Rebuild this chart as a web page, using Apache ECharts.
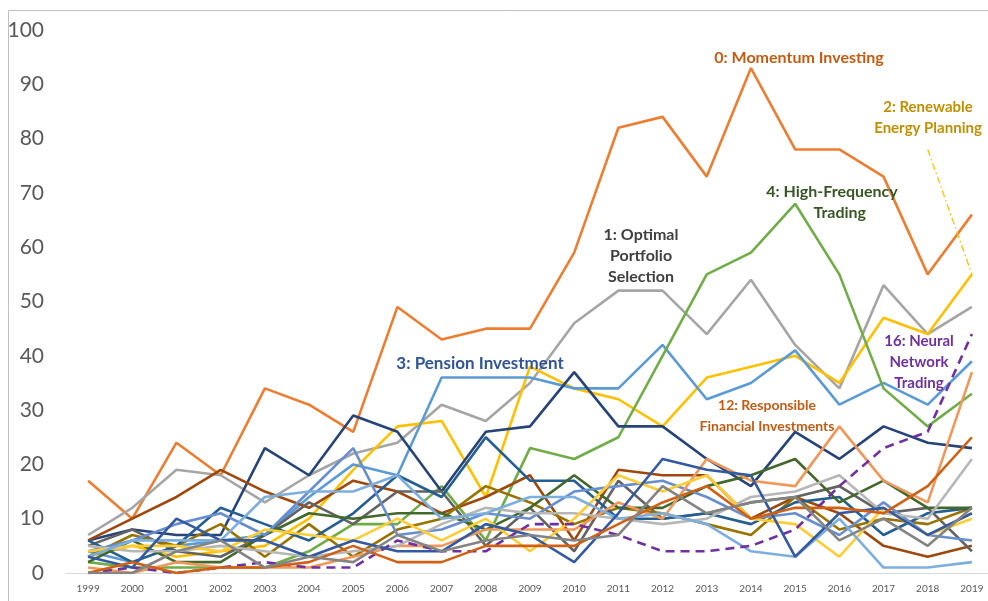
<!DOCTYPE html>
<html>
<head>
<meta charset="utf-8">
<script src="https://cdn.jsdelivr.net/npm/echarts@6/dist/echarts.min.js"></script>
<style>html,body{margin:0;padding:0;background:#fff;overflow:hidden;width:988px;height:601px}#c{width:1000px;height:601px}</style>
</head>
<body>
<div id="c"></div>
<script>
var years = ['1999','2000','2001','2002','2003','2004','2005','2006','2007','2008','2009','2010','2011','2012','2013','2014','2015','2016','2017','2018','2019'];
var yTicks = [0,10,20,30,40,50,60,70,80,90,100];

var s0  = [17,10,24,18,34,31,26,49,43,45,45,59,82,84,73,93,78,78,73,55,66];
var s1  = [7,12,19,18,13,18,22,24,31,28,35,46,52,52,44,54,42,34,53,44,49];
var s2  = [3,5,3,4,5,10,19,27,28,14,38,34,32,27,36,38,40,35,47,44,55];
var s3  = [4,2,5,6,7,14,20,18,36,36,36,34,34,42,32,35,41,31,35,31,39];
var s4  = [2,1,1,1,1,4,9,9,16,6,23,21,25,40,55,59,68,55,34,27,33];
var s5  = [6,8,7,7,23,18,29,26,15,26,27,37,27,27,21,16,26,21,27,24,23];
var s6  = [6,10,14,19,15,12,17,15,11,14,18,6,19,18,18,10,14,11,5,3,5];
var s7  = [5,8,4,3,7,13,9,15,15,5,12,4,17,10,11,13,14,16,11,12,4];
var s8  = [3,7,5,9,3,9,3,8,10,16,13,9,12,11,9,7,14,8,10,9,12];
var s9  = [6,2,5,12,9,6,11,18,14,25,17,17,10,10,11,9,13,14,7,11,12];
var s10 = [2,6,2,2,7,11,10,11,11,8,12,18,12,12,16,18,21,13,17,12,12];
var s11 = [4,6,9,11,7,15,23,7,8,11,10,15,16,17,14,10,11,7,13,7,6];
var s12 = [1,0,2,1,1,1,3,5,5,8,8,8,13,10,21,17,16,27,17,13,37];
var s13 = [5,4,4,5,4,3,4,5,9,12,11,11,10,9,10,14,15,18,11,10,21];
var s14 = [4,5,5,4,8,7,6,10,6,10,4,10,18,15,18,10,9,3,12,7,10];
var s15 = [3,6,6,6,14,15,15,18,10,11,14,14,10,11,9,4,3,10,1,1,2];
var s16 = [0,1,0,1,2,1,1,6,4,4,9,9,7,4,4,5,8,16,23,26,44];
var s17 = [3,1,10,6,6,3,6,4,4,9,7,2,11,21,19,18,3,11,12,7,11];
var s18 = [0,2,0,1,1,2,5,2,2,5,5,5,9,13,16,10,12,12,11,16,25];
var s19 = [0,0,4,6,1,3,2,7,4,6,7,6,7,16,11,13,14,6,10,5,12];

var seriesData = [s0,s1,s2,s3,s4,s5,s6,s7,s8,s9,s10,s11,s12,s13,s14,s15,s16,s17,s18,s19];
var colors = ['#ED7D31','#A5A5A5','#FFC000','#5B9BD5','#70AD47','#264478','#9E480E','#636363','#997300','#255E91',
              '#43682B','#698ED0','#F1975A','#B7B7B7','#FFCD33','#7CAFDD','#7030A0','#335AA1','#D26012','#848484'];

var series = seriesData.map(function(d, i){
  var s = {
    type: 'line', name: 'T' + i, data: d, showSymbol: false, symbol: 'none',
    silent: true, animation: false,
    lineStyle: { color: colors[i], width: 2.6, type: i === 16 ? [9, 6] : 'solid' },
    z: 2 + i
  };
  if (i === 2) {
    s.markLine = {
      silent: true, symbol: 'none', label: { show: false },
      lineStyle: { color: '#FFC000', width: 1.3, type: [7, 3, 1.5, 3] },
      data: [[{ coord: ['2018', 78] }, { coord: ['2019', 55] }]]
    };
  }
  return s;
});

var FONT = 'Lato, "Open Sans", sans-serif';
function lbl(x, y, text, color, size) {
  return { type: 'text', x: x, y: y, silent: true, z: 100,
    style: { text: text, fill: color, font: 'bold ' + (size || 15) + 'px ' + FONT,
             align: 'center', verticalAlign: 'middle', lineHeight: 21 } };
}

var chart = echarts.init(document.getElementById('c'), null, { renderer: 'canvas', width: 1000, height: 601 });
chart.setOption({
  backgroundColor: '#ffffff',
  animation: false,
  grid: { left: 66, right: 6, top: 30, bottom: 28, containLabel: false },
  xAxis: {
    type: 'category', data: years, boundaryGap: true,
    axisLine: { lineStyle: { color: '#d9d9d9', width: 1 } },
    axisTick: { show: false },
    axisLabel: { color: '#595959', fontSize: 10, fontFamily: FONT, margin: 11, interval: 0 },
    splitLine: { show: false }
  },
  yAxis: {
    type: 'value', min: yTicks[0], max: yTicks[yTicks.length - 1], interval: 10,
    axisLine: { show: false }, axisTick: { show: false },
    splitLine: { show: false },
    axisLabel: { color: '#595959', fontSize: 21, fontFamily: FONT, margin: 22 }
  },
  series: series,
  graphic: [
    { type: 'rect', silent: true, z: 0, shape: { x: 8.5, y: 10.5, width: 1000, height: 640 },
      style: { fill: 'none', stroke: '#bfbfbf', lineWidth: 1 } },
    lbl(799, 58, '0: Momentum Investing', '#C55A11', 16),
    lbl(928, 118, '2: Renewable\nEnergy Planning', '#BF9000', 15),
    lbl(832, 202, '4: High-Frequency\n    Trading', '#375623', 16),
    lbl(641, 256, '1: Optimal\nPortfolio\nSelection', '#404040', 16),
    lbl(480, 364, '3: Pension Investment', '#2F5597', 17),
    lbl(767, 416, '12: Responsible\nFinancial Investments', '#C55A11', 14),
    lbl(919, 362, '16: Neural\nNetwork\nTrading', '#7030A0', 15)
  ]
});
</script>
</body>
</html>
